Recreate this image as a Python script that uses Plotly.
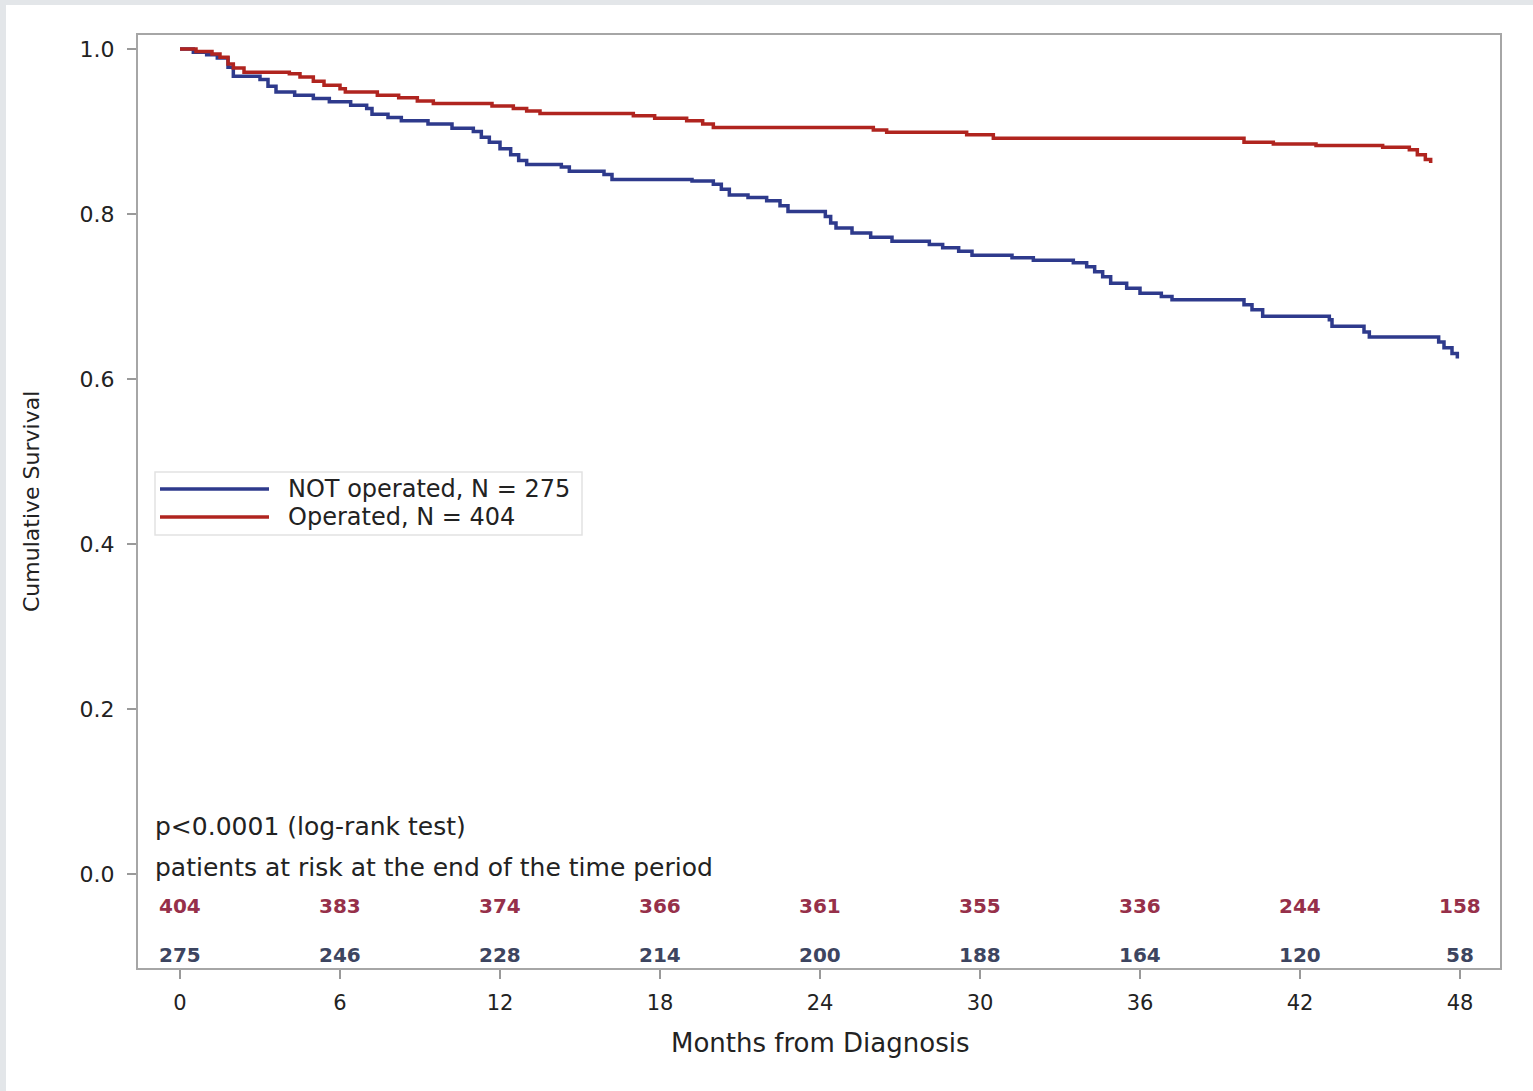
import plotly.graph_objects as go

# ---- data ----
months_not_op = [0, 0.5, 1.0, 1.4, 1.8, 2.0, 3.0, 3.3, 3.6, 4.3, 5.0, 5.6, 6.4, 7.0, 7.2, 7.8, 8.3,
                 9.3, 10.2, 11.0, 11.3, 11.6, 12.0, 12.4, 12.7, 13.0, 14.3, 14.6, 15.9, 16.2, 19.2,
                 20.0, 20.3, 20.6, 21.3, 22.0, 22.5, 22.8, 24.2, 24.4, 24.6, 25.2, 25.9, 26.7, 28.1,
                 28.6, 29.2, 29.7, 31.2, 32.0, 33.5, 34.0, 34.3, 34.6, 34.9, 35.5, 36.0, 36.8, 37.2,
                 39.9, 40.2, 40.6, 43.1, 43.2, 44.4, 44.6, 47.2, 47.4, 47.7, 47.9]
surv_not_op = [1.0, 0.996, 0.993, 0.989, 0.978, 0.967, 0.963, 0.955, 0.948, 0.944, 0.940, 0.936, 0.932,
               0.928, 0.921, 0.917, 0.913, 0.909, 0.904, 0.900, 0.893, 0.887, 0.879, 0.872, 0.865,
               0.860, 0.857, 0.852, 0.848, 0.842, 0.840, 0.836, 0.830, 0.823, 0.820, 0.816, 0.810,
               0.803, 0.797, 0.789, 0.783, 0.777, 0.772, 0.767, 0.763, 0.759, 0.755, 0.750, 0.747,
               0.744, 0.741, 0.736, 0.730, 0.724, 0.716, 0.710, 0.704, 0.700, 0.696, 0.690, 0.684,
               0.676, 0.672, 0.664, 0.657, 0.651, 0.645, 0.638, 0.631, 0.625]

months_op = [0, 0.6, 1.2, 1.5, 1.8, 2.0, 2.4, 4.1, 4.5, 5.0, 5.4, 6.0, 6.2, 7.4, 8.2, 8.9, 9.5, 11.7,
             12.5, 13.0, 13.5, 17.0, 17.8, 19.0, 19.6, 20.0, 26.0, 26.5, 29.5, 30.5, 39.9, 41.0,
             42.6, 45.1, 46.1, 46.4, 46.7, 46.9]
surv_op = [1.0, 0.997, 0.994, 0.990, 0.982, 0.977, 0.972, 0.970, 0.966, 0.961, 0.956, 0.952, 0.948,
           0.944, 0.941, 0.937, 0.934, 0.931, 0.928, 0.925, 0.922, 0.919, 0.916, 0.913, 0.909, 0.905,
           0.902, 0.899, 0.896, 0.892, 0.887, 0.885, 0.883, 0.881, 0.878, 0.872, 0.866, 0.862]

tick_months = [0, 6, 12, 18, 24, 30, 36, 42, 48]
at_risk_op = [404, 383, 374, 366, 361, 355, 336, 244, 158]
at_risk_not_op = [275, 246, 228, 214, 200, 188, 164, 120, 58]
y_ticks = [0.0, 0.2, 0.4, 0.6, 0.8, 1.0]

label_not_op = "NOT operated, N = 275"
label_op = "Operated, N = 404"

# ---- style ----
BLUE = "#2e3a8c"
RED = "#b0241f"
RED_TXT = "#96304a"
BLUE_TXT = "#3d4560"
FONT = "DejaVu Sans"
TXT = "#222222"

W, H = 1533, 1091
L, R, T, B = 138, 1500, 35, 968


def px_x(p):
    return (p - L) / (R - L)


def px_y(p):
    return (B - p) / (B - T)


fig = go.Figure()
fig.add_trace(go.Scatter(x=months_not_op, y=surv_not_op, mode="lines", line_shape="hv",
                         line=dict(color=BLUE, width=3.5), name=label_not_op, showlegend=False))
fig.add_trace(go.Scatter(x=months_op, y=surv_op, mode="lines", line_shape="hv",
                         line=dict(color=RED, width=3.5), name=label_op, showlegend=False))

shapes = [
    # white page over light-gray border (top and left only)
    dict(type="rect", xref="paper", yref="paper", x0=px_x(6), x1=px_x(1540), y0=px_y(1095),
         y1=px_y(5), fillcolor="white", line=dict(width=0), layer="below"),
    # legend box
    dict(type="rect", xref="paper", yref="paper", x0=px_x(155), x1=px_x(582), y0=px_y(535),
         y1=px_y(472), fillcolor="white", line=dict(color="#e2e2e2", width=1.5), layer="below"),
    dict(type="line", xref="paper", yref="paper", x0=px_x(160), x1=px_x(269), y0=px_y(489),
         y1=px_y(489), line=dict(color=BLUE, width=3.5)),
    dict(type="line", xref="paper", yref="paper", x0=px_x(160), x1=px_x(269), y0=px_y(517),
         y1=px_y(517), line=dict(color=RED, width=3.5)),
]

annotations = [
    dict(text=label_not_op, xref="paper", yref="paper", x=px_x(286), y=px_y(489),
         xanchor="left", yanchor="middle", showarrow=False, font=dict(size=24, color=TXT)),
    dict(text=label_op, xref="paper", yref="paper", x=px_x(286), y=px_y(517),
         xanchor="left", yanchor="middle", showarrow=False, font=dict(size=24, color=TXT)),
    dict(text="p<0.0001 (log-rank test)", xref="paper", yref="paper", x=px_x(153), y=px_y(826),
         xanchor="left", yanchor="middle", showarrow=False, font=dict(size=25, color=TXT)),
    dict(text="patients at risk at the end of the time period", xref="paper", yref="paper",
         x=px_x(153), y=px_y(867), xanchor="left", yanchor="middle", showarrow=False,
         font=dict(size=25, color=TXT)),
    dict(text="Months from Diagnosis", xref="paper", yref="paper", x=px_x(820), y=px_y(1043),
         xanchor="center", yanchor="middle", showarrow=False, font=dict(size=26, color=TXT)),
    dict(text="Cumulative Survival", xref="paper", yref="paper", x=px_x(31), y=px_y(502),
         xanchor="center", yanchor="middle", textangle=-90, showarrow=False,
         font=dict(size=22, color=TXT)),
]
for m, n_op, n_not in zip(tick_months, at_risk_op, at_risk_not_op):
    annotations.append(dict(text=f"<b>{n_op}</b>", xref="x", yref="paper", x=m, y=px_y(906),
                            xanchor="center", yanchor="middle", showarrow=False,
                            font=dict(size=20, color=RED_TXT)))
    annotations.append(dict(text=f"<b>{n_not}</b>", xref="x", yref="paper", x=m, y=px_y(955),
                            xanchor="center", yanchor="middle", showarrow=False,
                            font=dict(size=20, color=BLUE_TXT)))

fig.update_layout(
    width=W, height=H,
    margin=dict(l=L, r=W - R, t=T, b=H - B, pad=0),
    paper_bgcolor="#e3e6e9",
    plot_bgcolor="white",
    font=dict(family=FONT, color=TXT),
    showlegend=False,
    shapes=shapes,
    annotations=annotations,
    xaxis=dict(range=[-1.575, 49.5], tickvals=tick_months, ticktext=[str(m) for m in tick_months],
               showgrid=False, zeroline=False, showline=True, mirror=True, linecolor="#a6a6a6",
               linewidth=2, ticks="outside", ticklen=9, tickcolor="#9a9a9a", tickwidth=1.5,
               tickfont=dict(size=21, color=TXT), ticklabelstandoff=6),
    yaxis=dict(range=[-0.1139, 1.017], tickvals=y_ticks, ticktext=[f"{v:.1f}" for v in y_ticks],
               showgrid=False, zeroline=False, showline=True, mirror=True, linecolor="#a6a6a6",
               linewidth=2, ticks="outside", ticklen=9, tickcolor="#9a9a9a", tickwidth=1.5,
               tickfont=dict(size=22, color=TXT), ticklabelstandoff=8),
)

fig.write_html("out.html")
